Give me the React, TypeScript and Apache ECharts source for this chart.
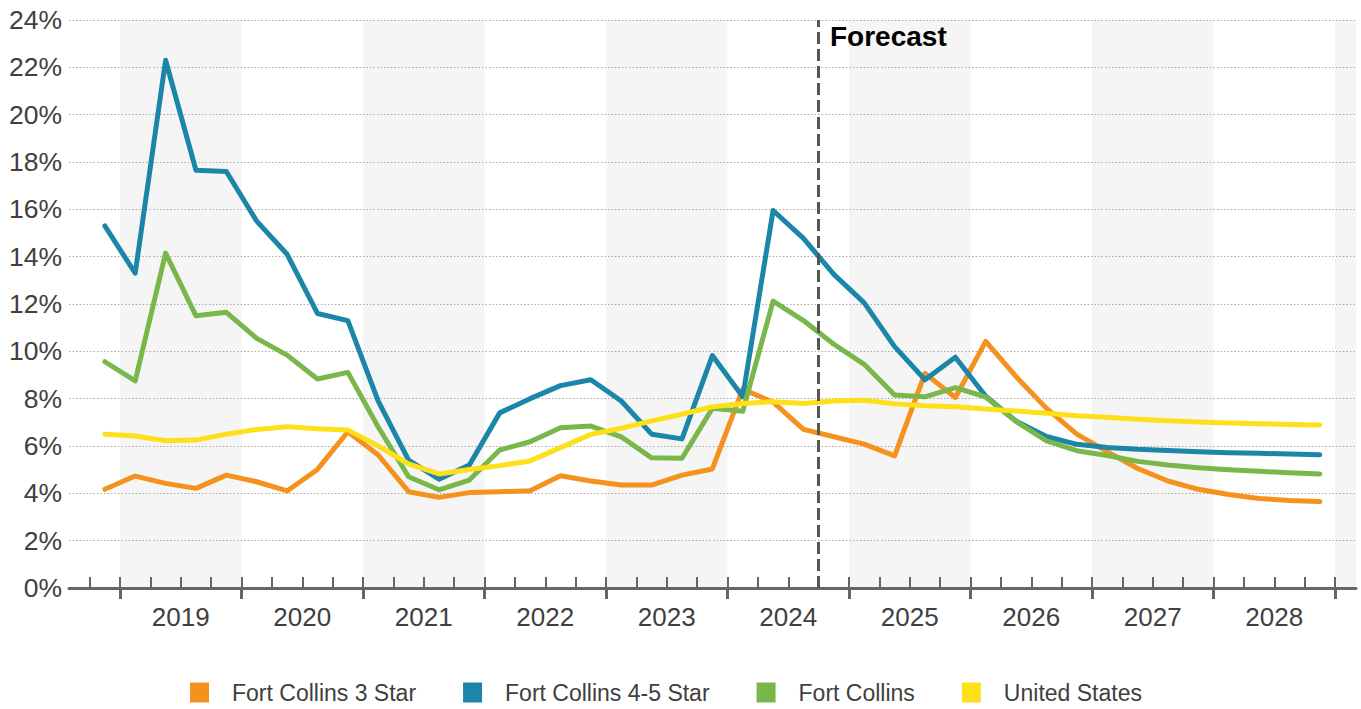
import React, { useEffect, useRef } from "react";
import * as echarts from "echarts";

const quarters = [
  "2018Q4",
  "2019Q1", "2019Q2", "2019Q3", "2019Q4",
  "2020Q1", "2020Q2", "2020Q3", "2020Q4",
  "2021Q1", "2021Q2", "2021Q3", "2021Q4",
  "2022Q1", "2022Q2", "2022Q3", "2022Q4",
  "2023Q1", "2023Q2", "2023Q3", "2023Q4",
  "2024Q1", "2024Q2", "2024Q3", "2024Q4",
  "2025Q1", "2025Q2", "2025Q3", "2025Q4",
  "2026Q1", "2026Q2", "2026Q3", "2026Q4",
  "2027Q1", "2027Q2", "2027Q3", "2027Q4",
  "2028Q1", "2028Q2", "2028Q3", "2028Q4",
];

const yearLabels = ["2019", "2020", "2021", "2022", "2023", "2024", "2025", "2026", "2027", "2028"];
const shadedYears = [2019, 2021, 2023, 2025, 2027, 2029];
const forecastStart = "2024Q4";
const forecastLabel = "Forecast";

const fortCollins3Star = [
  4.17, 4.73, 4.42, 4.21, 4.77, 4.49, 4.1, 5.01, 6.6, 5.62,
  4.07, 3.83, 4.03, 4.07, 4.11, 4.74, 4.52, 4.35, 4.35, 4.77,
  5.03, 8.4, 7.85, 6.7, 6.39, 6.08, 5.58, 9.07, 8.05, 10.42,
  8.93, 7.59, 6.5, 5.76, 5.05, 4.52, 4.17, 3.95, 3.78, 3.7, 3.65,
];
const fortCollins45Star = [
  15.3, 13.3, 22.3, 17.65, 17.6, 15.5, 14.1, 11.6, 11.3, 7.9,
  5.4, 4.6, 5.2, 7.4, 8.0, 8.55, 8.8, 7.9, 6.5, 6.3,
  9.82, 8.08, 15.95, 14.77, 13.25, 12.05, 10.2, 8.8, 9.75, 8.1,
  7.05, 6.4, 6.07, 5.94, 5.86, 5.81, 5.76, 5.72, 5.69, 5.66, 5.63,
];
const fortCollins = [
  9.56, 8.75, 14.15, 11.5, 11.65, 10.55, 9.84, 8.83, 9.11, 6.8,
  4.7, 4.15, 4.56, 5.83, 6.18, 6.77, 6.84, 6.39, 5.5, 5.48,
  7.59, 7.47, 12.12, 11.3, 10.3, 9.45, 8.15, 8.08, 8.47, 8.07,
  7.03, 6.22, 5.8, 5.6, 5.35, 5.2, 5.08, 5.0, 4.93, 4.87, 4.82,
];
const unitedStates = [
  6.5, 6.42, 6.22, 6.25, 6.5, 6.7, 6.81, 6.73, 6.68, 6.0,
  5.24, 4.82, 5.01, 5.17, 5.37, 5.93, 6.49, 6.75, 7.06, 7.34,
  7.66, 7.8, 7.87, 7.8, 7.9, 7.93, 7.78, 7.7, 7.66, 7.56,
  7.48, 7.38, 7.28, 7.21, 7.13, 7.07, 7.01, 6.97, 6.94, 6.91, 6.89,
];

const seriesDefs = [
  { name: "Fort Collins 3 Star", data: fortCollins3Star, color: "#F5921E" },
  { name: "Fort Collins 4-5 Star", data: fortCollins45Star, color: "#1B86A8" },
  { name: "Fort Collins", data: fortCollins, color: "#79B74A" },
  { name: "United States", data: unitedStates, color: "#FDE019" },
];

const FIRST_YEAR = 2019;
const X_MIN = -1.68;
const X_MAX = 40.69;
const FONT = '"Liberation Sans", Arial, Helvetica, sans-serif';
const TEXT = "#404040";
const AXIS = "#666666";

// quarter start position, in quarters from the start of FIRST_YEAR
function qPos(q: string): number {
  const y = Number(q.slice(0, 4));
  const n = Number(q.slice(5));
  return (y - FIRST_YEAR) * 4 + (n - 1);
}

export default function App() {
  const ref = useRef<HTMLDivElement | null>(null);

  useEffect(() => {
    if (!ref.current) return;
    const chart = echarts.init(ref.current, undefined, { renderer: "svg" });

    const minorTicks = quarters.map((q) => qPos(q)).concat([qPos(quarters[quarters.length - 1]) + 1]);
    const majorTicks = yearLabels.map((y) => (Number(y) - FIRST_YEAR) * 4).concat([yearLabels.length * 4]);
    const labelPos = yearLabels.map((y) => (Number(y) - FIRST_YEAR) * 4 + 2);

    const bands = shadedYears.map((y) => {
      const s = (y - FIRST_YEAR) * 4;
      return [{ xAxis: s }, { xAxis: Math.min(s + 4, X_MAX) }];
    });

    const option: any = {
      animation: false,
      textStyle: { fontFamily: FONT },
      grid: { left: 69, right: 5, top: 20, bottom: 121, containLabel: false },
      legend: {
        left: 185,
        top: 676,
        icon: "rect",
        itemWidth: 19,
        itemHeight: 20,
        itemGap: 47,
        data: seriesDefs.map((s) => s.name),
        textStyle: { fontSize: 23, color: TEXT, fontFamily: FONT, padding: [0, 0, 0, 18] },
        selectedMode: false,
      },
      xAxis: [
        {
          type: "value",
          min: X_MIN,
          max: X_MAX,
          position: "bottom",
          z: 4,
          axisLine: { show: true, lineStyle: { color: AXIS, width: 3 } },
          axisTick: {
            show: true,
            inside: true,
            length: 11,
            customValues: minorTicks,
            lineStyle: { color: AXIS, width: 2 },
          },
          axisLabel: { show: false },
          splitLine: { show: false },
        },
        {
          type: "value",
          min: X_MIN,
          max: X_MAX,
          position: "bottom",
          offset: 0,
          z: 4,
          axisLine: { show: false },
          axisTick: {
            show: true,
            inside: false,
            length: 11,
            customValues: majorTicks,
            lineStyle: { color: AXIS, width: 3 },
          },
          axisLabel: {
            show: true,
            customValues: labelPos,
            margin: 16,
            fontSize: 26,
            color: TEXT,
            fontFamily: FONT,
            formatter: (v: number) => String(FIRST_YEAR + Math.round((v - 2) / 4)),
          },
          splitLine: { show: false },
        },
      ],
      yAxis: {
        type: "value",
        min: 0,
        max: 24,
        interval: 2,
        z: 2,
        axisLine: { show: false },
        axisTick: { show: false },
        axisLabel: {
          formatter: "{value}%",
          fontSize: 26.5,
          color: TEXT,
          fontFamily: FONT,
          margin: 7,
        },
        splitLine: { show: true, lineStyle: { color: "#aaaaaa", width: 1.2, type: [1.5, 2] } },
      },
      graphic: [
        {
          type: "text",
          left: 830,
          top: 22,
          z: 20,
          style: {
            text: forecastLabel,
            font: `bold 28px ${FONT}`,
            fill: "#000000",
          },
        },
      ],
      series: [
        {
          name: "bands",
          type: "line",
          data: [],
          z: 1,
          silent: true,
          xAxisIndex: 0,
          markArea: {
            silent: true,
            itemStyle: { color: "#f5f5f5" },
            data: bands,
          },
        },
        ...seriesDefs.map((s) => ({
          name: s.name,
          type: "line",
          xAxisIndex: 0,
          yAxisIndex: 0,
          z: 3,
          symbol: "none",
          showSymbol: false,
          color: s.color,
          itemStyle: { color: s.color },
          lineStyle: { color: s.color, width: 5, cap: "round", join: "round" },
          data: quarters.map((q, i) => [qPos(q) + 0.5, s.data[i]]),
        })),
        {
          name: "forecast",
          type: "line",
          data: [],
          z: 10,
          silent: true,
          xAxisIndex: 0,
          markLine: {
            silent: true,
            symbol: ["none", "none"],
            label: { show: false },
            lineStyle: { color: "#555555", width: 3, type: [12, 5] },
            data: [{ xAxis: qPos(forecastStart) }],
          },
        },
      ],
    };

    chart.setOption(option);
    return () => chart.dispose();
  }, []);

  return (
    <div
      ref={ref}
      style={{ position: "absolute", left: 0, top: 0, width: 1361, height: 709, background: "#ffffff" }}
    />
  );
}
